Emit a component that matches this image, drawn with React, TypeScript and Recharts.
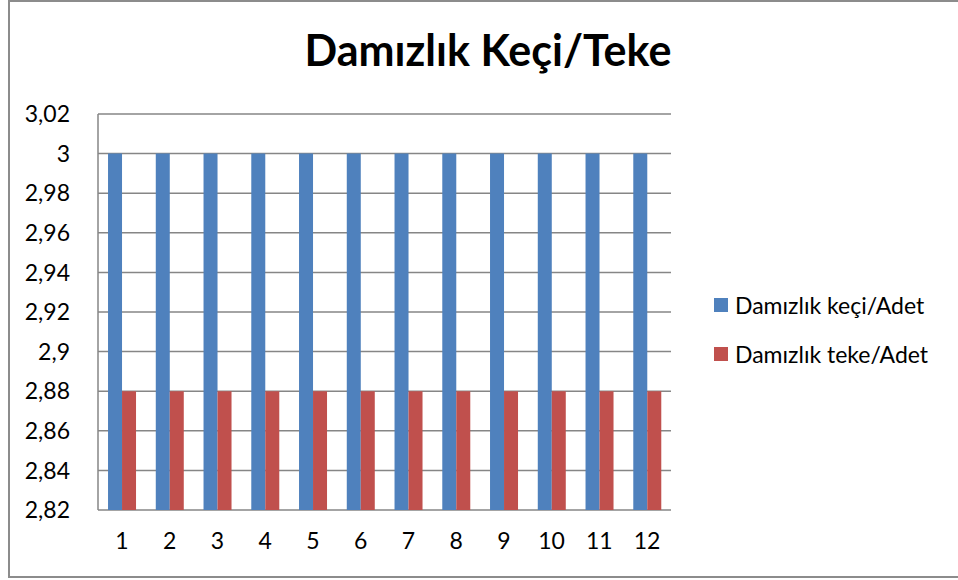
import { BarChart, Bar, XAxis, YAxis, CartesianGrid } from "recharts";

const months = ["1", "2", "3", "4", "5", "6", "7", "8", "9", "10", "11", "12"];
const keciAdet = [3, 3, 3, 3, 3, 3, 3, 3, 3, 3, 3, 3];
const tekeAdet = [2.88, 2.88, 2.88, 2.88, 2.88, 2.88, 2.88, 2.88, 2.88, 2.88, 2.88, 2.88];
const yTicks = [2.82, 2.84, 2.86, 2.88, 2.9, 2.92, 2.94, 2.96, 2.98, 3, 3.02];

const data = months.map((m, i) => ({ ay: m, keci: keciAdet[i], teke: tekeAdet[i] }));

const FONT = "Lato, 'Noto Sans', sans-serif";

const fmt = (v: number) => String(Number(v.toFixed(2))).replace(".", ",");

const legendItems = [
  { label: "Damızlık keçi/Adet", color: "#4F81BD" },
  { label: "Damızlık teke/Adet", color: "#C0504D" },
];

function LegendBox() {
  return (
    <div style={{ fontFamily: FONT, fontSize: 23, color: "#000" }}>
      {legendItems.map((it) => (
        <div key={it.label} style={{ display: "flex", alignItems: "center", height: 49 }}>
          <span style={{ width: 14, height: 14, background: it.color, marginRight: 7 }} />
          <span>{it.label}</span>
        </div>
      ))}
    </div>
  );
}

export default function App() {
  return (
    <div style={{ position: "absolute", left: 0, top: 0, width: 958, height: 580, background: "#fff", overflow: "hidden" }}>
      <div
        style={{
          position: "absolute",
          left: 8,
          top: 0,
          width: 980,
          height: 578,
          border: "2px solid #8c8c8c",
          boxSizing: "border-box",
        }}
      />
      <div
        style={{
          position: "absolute",
          left: 0,
          width: 976,
          top: 24,
          textAlign: "center",
          fontFamily: FONT,
          fontWeight: 700,
          fontSize: 43,
          color: "#000",
        }}
      >
        Damızlık Keçi/Teke
      </div>
      <div style={{ position: "absolute", left: 0, top: 0 }}>
        <BarChart
          width={958}
          height={580}
          data={data}
          margin={{ top: 114, right: 287, bottom: 20, left: 0 }}
          barCategoryGap="21%"
          barGap={0}
        >
          <CartesianGrid vertical={false} stroke="#868686" strokeWidth={1.5} />
          <XAxis
            dataKey="ay"
            height={50}
            axisLine={false}
            tickLine={false}
            tick={{ fontFamily: FONT, fontSize: 23, fill: "#000" }}
            tickMargin={17}
          />
          <YAxis
            width={98}
            domain={[2.82, 3.02]}
            ticks={yTicks}
            allowDataOverflow
            axisLine={{ stroke: "#868686", strokeWidth: 1.5 }}
            tickLine={false}
            tickFormatter={fmt}
            tick={{ fontFamily: FONT, fontSize: 23, fill: "#000" }}
            tickMargin={22}
          />
          <Bar dataKey="keci" name="Damızlık keçi/Adet" fill="#4F81BD" isAnimationActive={false} />
          <Bar dataKey="teke" name="Damızlık teke/Adet" fill="#C0504D" isAnimationActive={false} />
        </BarChart>
      </div>
      <div style={{ position: "absolute", left: 714, top: 280 }}>
        <LegendBox />
      </div>
    </div>
  );
}
